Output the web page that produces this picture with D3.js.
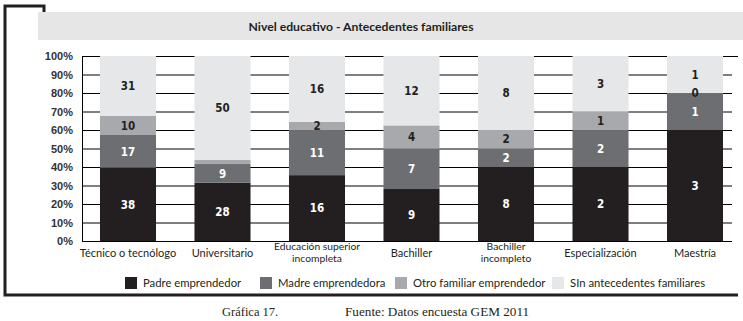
<!DOCTYPE html>
<html><head><meta charset="utf-8">
<script src="https://cdn.jsdelivr.net/npm/d3@7"></script>
<style>
html,body{margin:0;padding:0;background:#fff;}
svg{display:block;}
</style></head>
<body>
<svg id="c" width="743" height="321"></svg>
<script>
const title = "Nivel educativo - Antecedentes familiares";
const categories = ["Técnico o tecnólogo","Universitario","Educación superior|incompleta","Bachiller","Bachiller|incompleto","Especialización","Maestría"];
const seriesNames = ["Padre emprendedor","Madre emprendedora","Otro familiar emprendedor","SIn antecedentes familiares"];
// percentage shares (bar heights)
const padre = [39.6, 31.5, 35.6, 28.1, 40, 40, 60];
const madre = [17.7, 10.1, 24.4, 21.9, 10, 20, 20];
const otro  = [10.4, 2.2, 4.4, 12.5, 10, 10, 0];
const sin   = [32.3, 56.2, 35.6, 37.5, 40, 30, 20];
// printed counts (segment labels)
const padreLabels = [38, 28, 16, 9, 8, 2, 3];
const madreLabels = [17, 9, 11, 7, 2, 2, 1];
const otroLabels  = [10, null, 2, 4, 2, 1, 0];
const sinLabels   = [31, 50, 16, 12, 8, 3, 1];
const yTicks = [0,10,20,30,40,50,60,70,80,90,100];
const footerLeft = "Gráfica 17.";
const footerRight = "Fuente: Datos encuesta GEM 2011";

const colors = ["#231f20","#6d6e71","#a7a9ac","#e6e7e8"];
const labelColors = ["#ffffff","#ffffff","#231f20","#231f20"];
const values = [padre, madre, otro, sin];
const labels = [padreLabels, madreLabels, otroLabels, sinLabels];

const svg = d3.select("#c");
const ink = "#231f20";

// frame
svg.append("path").attr("d","M44,12V6H5V295H738").attr("fill","none")
  .attr("stroke",ink).attr("stroke-width",3);

// title bar
svg.append("rect").attr("x",38).attr("y",12).attr("width",705).attr("height",28).attr("fill","#e6e6e6");
svg.append("text").attr("x",361).attr("y",31).attr("text-anchor","middle")
  .attr("font-family","Lato, 'Open Sans', sans-serif").attr("font-weight","bold")
  .attr("font-size",12.2).attr("fill",ink).text(title);

const table = categories.map((c,i)=>{
  const o = {cat:c};
  seriesNames.forEach((s,k)=>{ o[s]=values[k][i]; });
  return o;
});
const stack = d3.stack().keys(seriesNames)(table);

const x = d3.scaleBand().domain(categories).range([80.75,742.25]).paddingInner(0.407).paddingOuter(0.2035);
const y = d3.scaleLinear().domain([0,100]).range([241,56]);

// gridlines
const grid = svg.append("g");
grid.selectAll("line").data(yTicks).join("line")
  .attr("x1",82).attr("x2",d=>d===100?738:732)
  .attr("y1",d=>y(d)+0.5).attr("y2",d=>y(d)+0.5)
  .attr("stroke","#000").attr("stroke-width",1);
grid.append("line").attr("x1",82.5).attr("x2",82.5).attr("y1",y(100)).attr("y2",y(0)+1)
  .attr("stroke","#000").attr("stroke-width",1);

// y axis labels
const yAxis = d3.axisLeft(y).tickValues(yTicks).tickSize(0).tickPadding(0).tickFormat(d=>d+"%");
const ya = svg.append("g").attr("transform","translate(73,0)").call(yAxis);
ya.select(".domain").remove();
ya.selectAll("text").attr("font-family","'Liberation Sans', Arial, sans-serif")
  .attr("font-weight","bold").attr("font-size",11).attr("fill","#333");

// bars
const layers = svg.append("g").selectAll("g").data(stack).join("g")
  .attr("fill",(d,i)=>colors[i]);
layers.selectAll("rect").data(d=>d).join("rect")
  .attr("x",d=>x(d.data.cat)).attr("width",x.bandwidth())
  .attr("y",d=>y(d[1])).attr("height",d=>y(d[0])-y(d[1]));

// labels
const lab = svg.append("g");
stack.forEach((layer,k)=>{
  layer.forEach((d,i)=>{
    const v = labels[k][i];
    if(v===null) return;
    lab.append("text")
      .attr("x",x(d.data.cat)+x.bandwidth()/2)
      .attr("y",y((d[0]+d[1])/2)).attr("dy","0.36em")
      .attr("text-anchor","middle")
      .attr("font-family","'Liberation Sans Narrow', 'DejaVu Sans Condensed', Arial, sans-serif")
      .attr("font-weight","bold").attr("font-size",11.5)
      .attr("fill",labelColors[k]).text(v);
  });
});

// x axis labels
const xl = svg.append("g");
categories.forEach(c=>{
  const lines = c.split("|");
  const cx = x(c)+x.bandwidth()/2;
  lines.forEach((ln,j)=>{
    xl.append("text").attr("text-anchor","middle")
      .attr("font-family","Lato, 'Open Sans', sans-serif").attr("font-size",lines.length>1?10.3:11).attr("fill",ink)
      .attr("x",cx).attr("y",lines.length===1?257:250+j*11.5).text(ln);
  });
});

// legend
const legX = [125,260,395,552];
const leg = svg.append("g");
seriesNames.forEach((s,i)=>{
  leg.append("rect").attr("x",legX[i]).attr("y",277).attr("width",12).attr("height",12).attr("fill",colors[i]);
  leg.append("text").attr("x",legX[i]+18).attr("y",287)
    .attr("font-family","Lato, 'Open Sans', sans-serif").attr("font-size",11.3).attr("fill",ink).text(s);
});

// footer
svg.append("text").attr("x",222).attr("y",316).attr("font-family","'Liberation Serif', serif")
  .attr("font-size",12.5).attr("fill",ink).text(footerLeft);
svg.append("text").attr("x",345).attr("y",316).attr("font-family","'Liberation Serif', serif")
  .attr("font-size",13.2).attr("fill",ink).text(footerRight);
</script>
</body></html>
